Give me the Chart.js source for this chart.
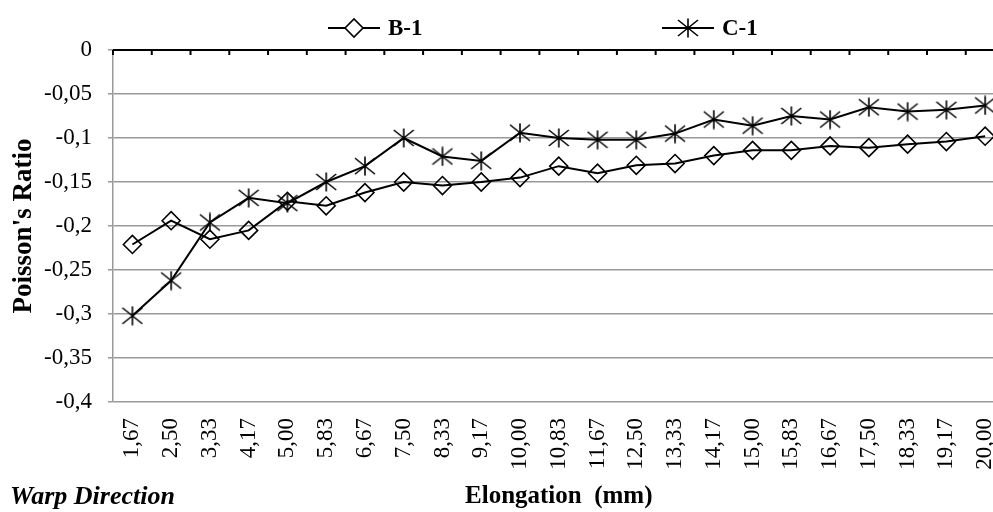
<!DOCTYPE html>
<html>
<head>
<meta charset="utf-8">
<script src="https://cdn.jsdelivr.net/npm/chart.js@4.4.1/dist/chart.umd.min.js"></script>
<style>
  html, body { margin: 0; padding: 0; background: #fff; overflow: hidden; }
  canvas { display: block; }
</style>
</head>
<body>
<canvas id="poissonChart" width="1029" height="512"></canvas>
<script>
// Elongation (mm) categories
const elongation = ['1,67', '2,50', '3,33', '4,17', '5,00', '5,83', '6,67', '7,50', '8,33', '9,17',
    '10,00', '10,83', '11,67', '12,50', '13,33', '14,17', '15,00', '15,83', '16,67', '17,50',
    '18,33', '19,17', '20,00'];

// Poisson's ratio
const b1 = [-0.221, -0.194, -0.215, -0.205, -0.172, -0.177, -0.162, -0.150, -0.154, -0.150,
    -0.145, -0.132, -0.140, -0.131, -0.129, -0.120, -0.114, -0.114, -0.109, -0.111,
    -0.107, -0.104, -0.098];
const c1 = [-0.302, -0.262, -0.196, -0.168, -0.174, -0.150, -0.132, -0.100, -0.121, -0.126,
    -0.094, -0.100, -0.102, -0.102, -0.095, -0.079, -0.086, -0.075, -0.079, -0.065,
    -0.070, -0.068, -0.063];

const seriesNames = ['B-1', 'C-1'];
const yMin = -0.4;
const yMax = 0;
const yStep = 0.05;

const serif = "'Liberation Serif', 'Times New Roman', serif";

// Excel style asterisk marker
const starMarker = (() => {
    const c = document.createElement('canvas');
    c.width = 22;
    c.height = 20;
    const g = c.getContext('2d');
    g.strokeStyle = '#000';
    g.lineWidth = 1.6;
    g.beginPath();
    g.moveTo(11, 0.5); g.lineTo(11, 19.5);
    g.moveTo(1, 2); g.lineTo(21, 18);
    g.moveTo(1, 18); g.lineTo(21, 2);
    g.stroke();
    return c;
})();

function drawDiamond(ctx, x, y, r) {
    ctx.beginPath();
    ctx.moveTo(x - r, y);
    ctx.lineTo(x, y - r);
    ctx.lineTo(x + r, y);
    ctx.lineTo(x, y + r);
    ctx.closePath();
    ctx.stroke();
}

// black horizontal axis at y = 0 with inner tick marks
const topAxis = {
    id: 'topAxis',
    afterDatasetsDraw(chart) {
        const { ctx, chartArea, scales: { x, y } } = chart;
        const y0 = y.getPixelForValue(0);
        const n = x.ticks.length;
        const step = (x.right - x.left) / n;
        ctx.save();
        ctx.strokeStyle = '#000';
        ctx.lineWidth = 2;
        ctx.beginPath();
        ctx.moveTo(chartArea.left, y0);
        ctx.lineTo(chartArea.right, y0);
        for (let i = 0; i <= n; i++) {
            const px = x.left + i * step;
            ctx.moveTo(px, y0);
            ctx.lineTo(px, y0 + 5);
        }
        ctx.stroke();
        ctx.restore();
    }
};

// legend spread over the top + "Warp Direction" note
const extras = {
    id: 'extras',
    afterDraw(chart) {
        const { ctx } = chart;
        const legendX = [328, 662];
        const ly = 28;
        ctx.save();
        ctx.strokeStyle = '#000';
        ctx.fillStyle = '#000';
        chart.data.datasets.forEach((ds, i) => {
            const x0 = legendX[i];
            ctx.lineWidth = 2;
            ctx.beginPath();
            ctx.moveTo(x0, ly);
            ctx.lineTo(x0 + 52, ly);
            ctx.stroke();
            if (ds.pointStyle === 'rectRot') {
                ctx.fillStyle = '#fff';
                ctx.beginPath();
                ctx.moveTo(x0 + 17, ly); ctx.lineTo(x0 + 26, ly - 9);
                ctx.lineTo(x0 + 35, ly); ctx.lineTo(x0 + 26, ly + 9);
                ctx.closePath();
                ctx.fill();
                ctx.lineWidth = 1.6;
                drawDiamond(ctx, x0 + 26, ly, 9);
            } else {
                ctx.drawImage(starMarker, x0 + 26 - starMarker.width / 2, ly - starMarker.height / 2);
            }
            ctx.fillStyle = '#000';
            ctx.font = 'bold 23px ' + serif;
            ctx.textBaseline = 'middle';
            ctx.textAlign = 'left';
            ctx.fillText(ds.label, x0 + 60, ly + 1);
        });
        ctx.font = 'italic bold 26px ' + serif;
        ctx.textBaseline = 'middle';
        ctx.fillText('Warp Direction', 10, 497);
        ctx.restore();
    }
};

const ctx = document.getElementById('poissonChart').getContext('2d');
new Chart(ctx, {
    type: 'line',
    data: {
        labels: elongation,
        datasets: [
            {
                label: seriesNames[0],
                data: b1,
                borderColor: '#000',
                borderWidth: 2,
                pointStyle: 'rectRot',
                pointRadius: 9,
                pointBorderWidth: 1.6,
                pointBorderColor: '#000',
                pointBackgroundColor: 'rgba(0,0,0,0)',
                tension: 0
            },
            {
                label: seriesNames[1],
                data: c1,
                borderColor: '#000',
                borderWidth: 2,
                pointStyle: starMarker,
                pointRadius: 10,
                tension: 0
            }
        ]
    },
    options: {
        responsive: false,
        animation: false,
        devicePixelRatio: 1,
        layout: { padding: { top: 50, left: 0, right: 0, bottom: 0 } },
        plugins: {
            legend: { display: false },
            tooltip: { enabled: false }
        },
        scales: {
            x: {
                offset: true,
                grid: { display: false, drawTicks: false },
                border: { display: false },
                ticks: {
                    color: '#000',
                    font: { family: serif, size: 23 },
                    minRotation: 90,
                    maxRotation: 90,
                    autoSkip: false,
                    padding: 16
                },
                title: {
                    display: true,
                    text: 'Elongation  (mm)',
                    color: '#000',
                    font: { family: serif, size: 25, weight: 'bold' },
                    padding: { top: 0, bottom: 0 }
                },
                afterFit(scale) { scale.height = 110; }
            },
            y: {
                min: yMin,
                max: yMax,
                grid: { color: '#999', lineWidth: 1.5, drawTicks: true, tickLength: 5 },
                border: { display: true, color: '#999', width: 1.5 },
                ticks: {
                    stepSize: yStep,
                    color: '#000',
                    font: { family: serif, size: 23 },
                    padding: 16,
                    callback: (v) => (Math.round(v * 100) / 100).toString().replace('.', ',')
                },
                title: {
                    display: true,
                    text: "Poisson's Ratio",
                    color: '#000',
                    font: { family: serif, size: 27, weight: 'bold' },
                    padding: { top: 8, bottom: 0 }
                },
                afterFit(scale) { scale.width = 113; }
            }
        }
    },
    plugins: [topAxis, extras]
});
</script>
</body>
</html>
